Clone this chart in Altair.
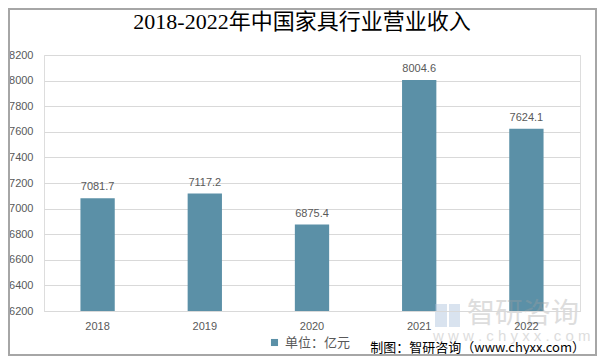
import altair as alt
import pandas as pd

years = ["2018", "2019", "2020", "2021", "2022"]
revenue = [7081.7, 7117.2, 6875.4, 8004.6, 7624.1]
y_ticks = [6200, 6400, 6600, 6800, 7000, 7200, 7400, 7600, 7800, 8000, 8200]
series_name = "单位：亿元"
title_text = "2018-2022年中国家具行业营业收入"
source_text = "制图：智研咨询（www.chyxx.com）"
wm_name = "智研咨询"
wm_url = "w w w . c h y x x . c o m"

df = pd.DataFrame({"year": years, "value": revenue, "series": [series_name] * len(years)})

BAR = "#5b90a7"
GRAY = "#595959"
FONT = "Liberation Sans, Noto Sans CJK SC"

x_enc = alt.X("year:N", sort=years,
              scale=alt.Scale(paddingInner=0.68, paddingOuter=0.34),
              axis=alt.Axis(title=None, labelAngle=0, ticks=False, domain=True,
                            domainColor="#d9d9d9", labelColor=GRAY, labelFontSize=11,
                            labelFont=FONT, labelPadding=9, grid=False, zindex=1))
y_enc = alt.Y("value:Q", scale=alt.Scale(domain=[6200, 8200], nice=False, zero=False),
              axis=alt.Axis(title=None, values=y_ticks, ticks=False, domain=False,
                            format="d", labelOverlap=False,
                            labelColor=GRAY, labelFontSize=11, labelFont=FONT,
                            labelPadding=11, gridColor="#d9d9d9", gridWidth=1))

bars = alt.Chart(df).mark_bar(clip=True).encode(
    x=x_enc, y=y_enc,
    color=alt.Color("series:N", scale=alt.Scale(range=[BAR]),
                    legend=alt.Legend(title=None, orient="none", legendX=224, legendY=281,
                                      symbolType="square", symbolSize=50,
                                      labelFontSize=13, labelColor=GRAY,
                                      labelFont="Noto Sans CJK SC", symbolStrokeWidth=0)),
)

labels = alt.Chart(df).mark_text(baseline="bottom", dy=-6, fontSize=11, color=GRAY,
                                 font=FONT).encode(
    x=x_enc, y=y_enc, text=alt.Text("value:Q", format=".1f"))

one = pd.DataFrame({"k": [0]})

title = alt.Chart(one).mark_text(text=title_text, fontSize=22, fontWeight="normal",
                                 font="Liberation Serif, Noto Sans CJK SC",
                                 color="#000000", align="center", baseline="middle").encode(
    x=alt.value(258), y=alt.value(-33))

logo1 = alt.Chart(one).mark_rect(color="#9fb9d6", opacity=0.4).encode(
    x=alt.value(391), x2=alt.value(403), y=alt.value(249), y2=alt.value(272))
logo2 = alt.Chart(one).mark_rect(color="#9fb9d6", opacity=0.4).encode(
    x=alt.value(405), x2=alt.value(416), y=alt.value(249), y2=alt.value(272))

watermark1 = alt.Chart(one).mark_text(text=wm_name, fontSize=28, color="#a0a0a0",
                                      opacity=0.35, align="left", baseline="middle",
                                      font="Noto Sans CJK SC").encode(
    x=alt.value(423), y=alt.value(260))
watermark2 = alt.Chart(one).mark_text(text=wm_url, fontSize=15, color="#a0a0a0",
                                      opacity=0.35, align="left", baseline="middle",
                                      font="Liberation Sans").encode(
    x=alt.value(389), y=alt.value(281))

source = alt.Chart(one).mark_text(text=source_text, fontSize=13, color="#000000",
                                  align="right", baseline="middle",
                                  font="Noto Sans CJK SC").encode(
    x=alt.value(541), y=alt.value(293))

border = alt.Chart(one).mark_rect(fill=None, stroke="#a6a6a6", strokeWidth=2).encode(
    x=alt.value(-35), x2=alt.value(552), y=alt.value(-46), y2=alt.value(300))

chart = alt.layer(bars, labels, logo1, logo2, watermark1, watermark2, source, title,
                  border).properties(
    width=536, height=256,
    padding={"left": 36, "top": 47, "right": 17, "bottom": 45},
    autosize=alt.AutoSizeParams(type="none"),
).configure_view(stroke=None).configure(background="white")

chart.save("out.html", embed_options={"renderer": "svg", "actions": False})
